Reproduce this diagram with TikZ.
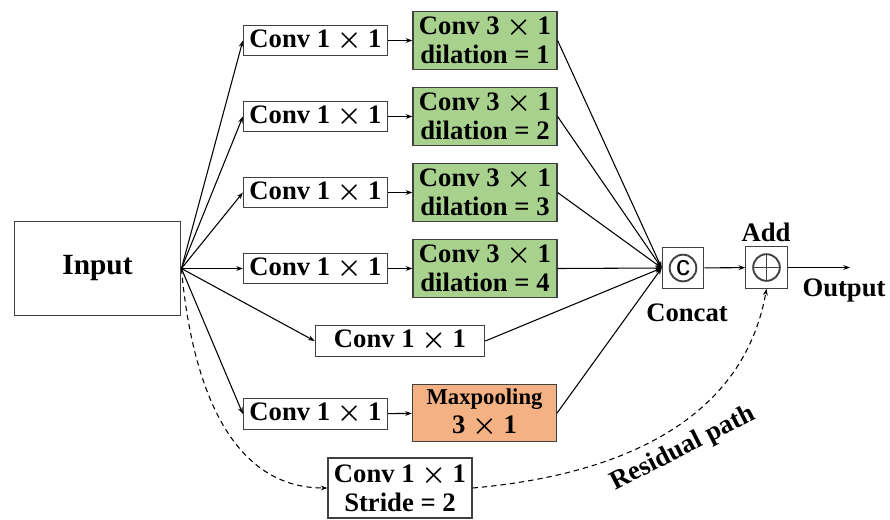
\documentclass[tikz,border=0pt]{standalone}
\usepackage{fontspec}
\setmainfont{Liberation Serif}
\setsansfont{Liberation Sans}
\usetikzlibrary{arrows.meta}
\definecolor{dilgreen}{RGB}{169,209,142}
\definecolor{poolorange}{RGB}{244,177,131}
\newcommand{\by}{{\boldmath$\times$}}
\tikzset{
  blk/.style={draw=black!75,line width=0.9pt,inner sep=0pt,align=center,
    font=\fontsize{20}{22}\selectfont\bfseries},
  conv/.style={blk,minimum width=108pt,minimum height=23pt},
  dil/.style={blk,fill=dilgreen,minimum width=108pt,minimum height=43pt},
  opbox/.style={draw=black!75,line width=0.9pt,minimum size=31pt,inner sep=0pt},
  lbl/.style={inner sep=0pt,font=\fontsize{20}{22}\selectfont\bfseries},
  arr/.style={-{Stealth[length=5pt,width=3.6pt]},line width=0.8pt},
  res/.style={arr,dash pattern=on 4pt off 3pt},
}
\begin{document}
\begin{tikzpicture}[x=0.75pt,y=-0.75pt]
  \useasboundingbox (0,0) rectangle (890,519);
  \node[blk,minimum width=125pt,minimum height=71pt,font=\fontsize{22}{24}\selectfont\bfseries] (input) at (97.5,268.5) {Input};
  % concat and add
  \node[opbox,path picture={\draw[line width=1.4pt] (path picture bounding box.center) circle (10pt);}] (concat) at (683,268)
    {\fontsize{21}{21}\selectfont\sffamily c};
  \node[opbox,path picture={
      \draw[line width=1.4pt] (path picture bounding box.center) circle (10pt);
      \draw[line width=1.4pt] ([xshift=-10pt]path picture bounding box.center) -- ([xshift=10pt]path picture bounding box.center);
      \draw[line width=1.4pt] ([yshift=-10pt]path picture bounding box.center) -- ([yshift=10pt]path picture bounding box.center);}] (add) at (766.5,267.5) {};
  \node[lbl] (catlbl) at (687,313) {Concat};
  \node[lbl] (addlbl) at (766,232) {Add};
  \node[lbl] (outlbl) at (844,291) {Output};
  \coordinate (out) at (850,267.5);
  % dilated branches
  \foreach \i/\y in {1/40.5,2/116.5,3/192.5,4/268.5}{
    \node[conv] (c\i) at (315.5,\y) {Conv 1 \by{} 1};
    \node[dil] (d\i) at (485,\y) {Conv 3 \by{} 1\\dilation = \i};
    \draw[arr] (input.east) -- (c\i.west);
    \draw[arr] (c\i) -- (d\i);
    \draw[arr] (d\i.east) -- (concat.west);
  }
  \node[conv,minimum width=127pt] (cmid) at (400,341) {Conv 1 \by{} 1};
  \node[conv] (cpool) at (315.5,414) {Conv 1 \by{} 1};
  \node[blk,fill=poolorange,minimum width=108pt,minimum height=43pt] (pool) at (484.5,413)
    {{\fontsize{17}{19}\selectfont Maxpooling}\\3 \by{} 1};
  \node[blk,minimum width=108pt,minimum height=45pt] (stride) at (400,488) {Conv 1 \by{} 1\\Stride = 2};
  \draw[arr] (input.east) -- (cmid.west);
  \draw[arr] (input.east) -- (cpool.west);
  \draw[arr] (cpool) -- (pool);
  \draw[arr] (cmid.east) -- (concat.west);
  \draw[arr] (pool.east) -- (concat.west);
  \draw[arr] (concat) -- (add);
  \draw[arr] (add) -- (out);
  % residual path
  \draw[res] (input.east) to[out=-85,in=180] (stride.west);
  \draw[res] (stride.east) to[out=5,in=-100] (add.south);
  \node[lbl,rotate=27] (reslbl) at (683,449) {Residual path};
\end{tikzpicture}
\end{document}
